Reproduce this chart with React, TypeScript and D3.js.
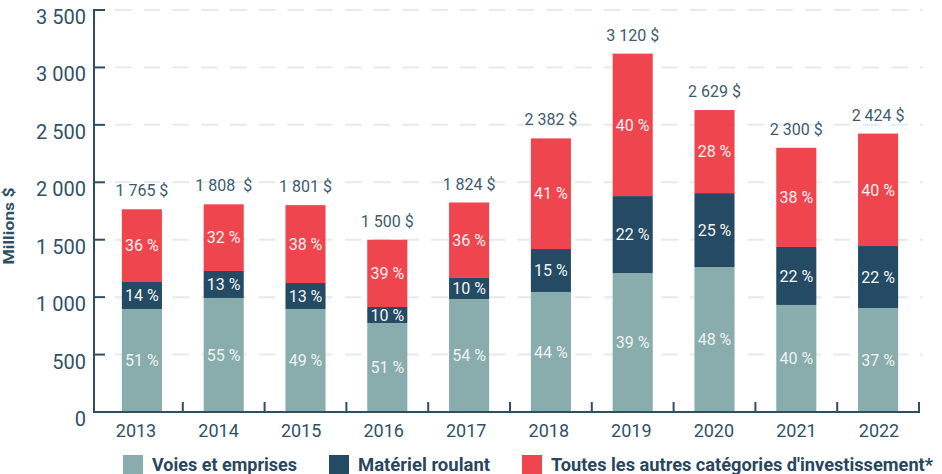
import React from 'react';
import * as d3 from 'd3';

const years = ['2013', '2014', '2015', '2016', '2017', '2018', '2019', '2020', '2021', '2022'];
const voies = [897, 993, 897, 775, 984, 1045, 1210, 1262, 932, 905];
const materiel = [235, 235, 226, 139, 183, 374, 670, 644, 505, 540];
const autres = [633, 580, 678, 586, 657, 963, 1240, 723, 863, 979];
const voiesPct = [51, 55, 49, 51, 54, 44, 39, 48, 40, 37];
const materielPct = [14, 13, 13, 10, 10, 15, 22, 25, 22, 22];
const autresPct = [36, 32, 38, 39, 36, 41, 40, 28, 38, 40];
const totalLabels = ['1 765 $', '1 808  $', '1 801 $', '1 500 $', '1 824 $', '2 382 $', '3 120 $', '2 629 $', '2 300 $', '2 424 $'];
const yTicks = [0, 500, 1000, 1500, 2000, 2500, 3000, 3500];
const seriesNames = ['Voies et emprises', 'Matériel roulant', "Toutes les autres catégories d'investissement*"];
const yTitle = 'Millions $';

const COLORS = ['#88adac', '#244b63', '#ef454e'];
const PCT_COLORS = ['#eef3f3', '#f2f5f7', '#fdf1f1'];
const AXIS = '#2d4f66';
const TEXT = '#2f5168';
const FONT = 'Roboto, "Noto Sans", sans-serif';

const locale = d3.formatLocale({ decimal: ',', thousands: ' ', grouping: [3], currency: ['', ' $'] });
const fmt = locale.format(',d');

export default function App() {
  const W = 942;
  const H = 474;
  const x = d3.scaleBand<string>().domain(years).range([101, 919]).paddingInner(0.51).paddingOuter(0.255);
  const xLabel = d3.scalePoint<string>().domain(years).range([136, 879]);
  const y = d3.scaleLinear().domain([0, 3500]).range([412, 10]);

  const data = years.map((yr, i) => ({ yr, values: [voies[i], materiel[i], autres[i]], pcts: [voiesPct[i], materielPct[i], autresPct[i]] }));
  const stack = d3.stack<any>().keys(['0', '1', '2']).value((d: any, k: string) => d.values[+k]);
  const stacked = stack(data as any);

  const legendX = [123, 329, 522];
  const legendTextX = [152, 358, 551];
  const legendLen = [145, 132, 382];

  return (
    <svg width={W} height={H} style={{ position: 'absolute', left: 0, top: 0, background: '#fff' }} fontFamily={FONT}>
      {/* grid */}
      {yTicks.filter((t) => t > 0).map((t) => (
        <line key={'g' + t} x1={115} x2={923} y1={y(t)} y2={y(t)} stroke="#e6eaee" strokeWidth={2} strokeDasharray="16.5 12.25" />
      ))}
      {/* bars */}
      {stacked.map((s, si) => (
        <g key={'s' + si}>
          {s.map((d: any, i: number) => (
            <rect key={i} x={x(years[i])} width={x.bandwidth()} y={y(d[1])} height={y(d[0]) - y(d[1])} fill={COLORS[si]} />
          ))}
        </g>
      ))}
      {/* percent labels */}
      {stacked.map((s, si) => (
        <g key={'p' + si}>
          {s.map((d: any, i: number) => (
            <text key={i} x={(x(years[i]) as number) + x.bandwidth() / 2} y={(y(d[0]) + y(d[1])) / 2} dy="0.36em" textAnchor="middle" fontSize={16} fill={PCT_COLORS[si]}>
              {data[i].pcts[si] + ' %'}
            </text>
          ))}
        </g>
      ))}
      {/* total labels */}
      {stacked[2].map((d: any, i: number) => (
        <text key={'t' + i} x={(x(years[i]) as number) + x.bandwidth() / 2} y={y(d[1]) - 13} textAnchor="middle" fontSize={16} fill="#3d5b70" style={{ whiteSpace: 'pre' }}>
          {totalLabels[i]}
        </text>
      ))}
      {/* y axis */}
      <line x1={94} x2={94} y1={9} y2={413} stroke={AXIS} strokeWidth={2} />
      {yTicks.map((t) => (
        <g key={'y' + t}>
          <line x1={94} x2={105} y1={y(t)} y2={y(t)} stroke={AXIS} strokeWidth={2} />
          <text x={86} y={y(t) + 14} textAnchor="end" fontSize={20} fill={TEXT}>{fmt(t)}</text>
        </g>
      ))}
      {/* x axis */}
      <line x1={93} x2={920} y1={412} y2={412} stroke={AXIS} strokeWidth={2} />
      {years.map((yr, i) => {
        const bx = (x(yr) as number) + x.bandwidth() / 2 + x.step() / 2;
        return <line key={'xt' + yr} x1={bx} x2={bx} y1={402} y2={412} stroke={AXIS} strokeWidth={2} />;
      })}
      {years.map((yr) => (
        <text key={'xl' + yr} x={xLabel(yr)} y={437} textAnchor="middle" fontSize={18} fill={TEXT}>{yr}</text>
      ))}
      {/* y title */}
      <text transform="translate(14,226) rotate(-90)" textAnchor="middle" fontSize={14} fontWeight={700} fill={TEXT} textLength={77} lengthAdjust="spacingAndGlyphs">{yTitle}</text>
      {/* legend */}
      {seriesNames.map((n, i) => (
        <g key={'l' + i}>
          <rect x={legendX[i]} y={455} width={20} height={19} fill={COLORS[i]} />
          <text x={legendTextX[i]} y={471} fontSize={18} fontWeight={700} fill="#28475e" textLength={legendLen[i]} lengthAdjust="spacingAndGlyphs">{n}</text>
        </g>
      ))}
    </svg>
  );
}
